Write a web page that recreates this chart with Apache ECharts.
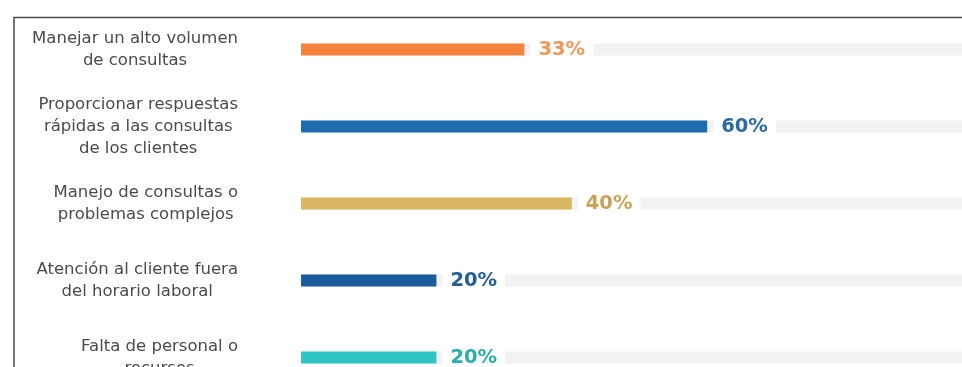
<!DOCTYPE html>
<html><head><meta charset="utf-8">
<script src="https://cdn.jsdelivr.net/npm/echarts@6/dist/echarts.min.js"></script>
<style>html,body{margin:0;padding:0;background:#fff;overflow:hidden;width:962px;height:367px}#c{width:1000px;height:420px}</style>
</head><body><div id="c"></div>
<script>
var categories = [
  'Manejar un alto volumen\nde consultas',
  'Proporcionar respuestas\nrápidas a las consultas\nde los clientes',
  'Manejo de consultas o\nproblemas complejos',
  'Atención al cliente fuera\ndel horario laboral',
  'Falta de personal o\nrecursos'
];
var values = [33, 60, 40, 20, 20];
var barColors = ['#f5833b', '#1f6cb0', '#d8b662', '#1a5b9b', '#2cc6c4'];
var labelColors = ['#f1975a', '#2a6aa7', '#caa257', '#245d98', '#2aaeab'];
var axisMax = 100;

var chart = echarts.init(document.getElementById('c'), null, {renderer: 'canvas'});
var font = 'DejaVu Sans';
chart.setOption({
  backgroundColor: '#fff',
  animation: false,
  graphic: [{
    type: 'rect', z: 100, silent: true,
    shape: {x: 14, y: 17.5, width: 1000, height: 500},
    style: {fill: 'none', stroke: '#4a4a4a', lineWidth: 1.5}
  }],
  grid: {left: 301, top: 11, width: 677, height: 385, containLabel: false},
  xAxis: {type: 'value', min: 0, max: axisMax, show: false},
  yAxis: {
    type: 'category', inverse: true, data: categories,
    axisLine: {show: false}, axisTick: {show: false}, splitLine: {show: false},
    axisLabel: {
      margin: 63, align: 'right', fontFamily: font, fontSize: 16.5, color: '#4a4a4a',
      lineHeight: 22,
      formatter: function (v) {
        return v.split('\n').map(function (l) { return '{c|' + l + '}'; }).join('\n');
      },
      rich: {c: {align: 'center', fontFamily: font, fontSize: 16.5, color: '#4a4a4a', lineHeight: 22}}
    }
  },
  series: [{
    type: 'bar', barWidth: 12,
    showBackground: true,
    backgroundStyle: {color: '#f2f2f2'},
    data: values.map(function (v, i) {
      return {
        value: v,
        itemStyle: {color: barColors[i]},
        label: {color: labelColors[i]}
      };
    }),
    label: {
      show: true, position: 'right', distance: 6,
      formatter: '{c}%', fontFamily: font, fontWeight: 'bold', fontSize: 19.5,
      backgroundColor: '#fff', padding: [2, 8]
    }
  }]
});
</script></body></html>
